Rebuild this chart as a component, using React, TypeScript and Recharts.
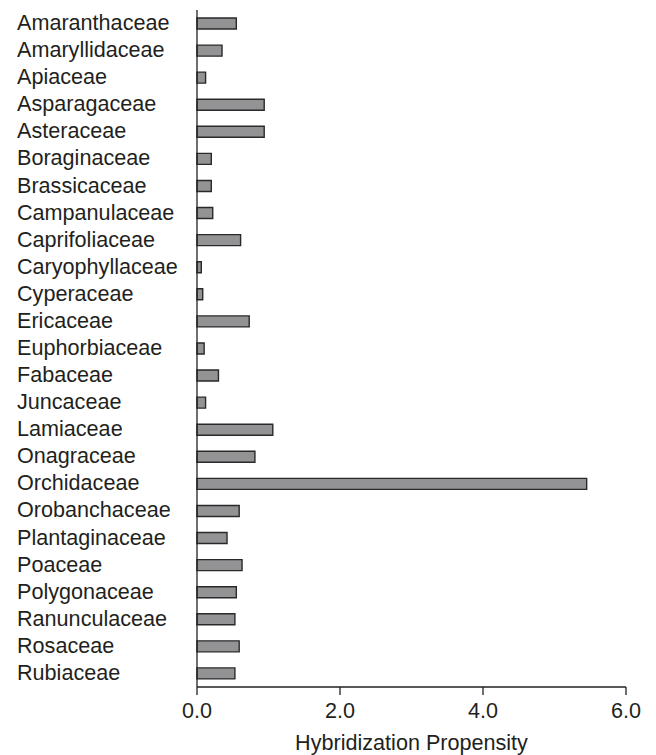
import React from 'react';
import { BarChart, Bar, XAxis, YAxis } from 'recharts';

const families = [
  'Amaranthaceae', 'Amaryllidaceae', 'Apiaceae', 'Asparagaceae', 'Asteraceae',
  'Boraginaceae', 'Brassicaceae', 'Campanulaceae', 'Caprifoliaceae', 'Caryophyllaceae',
  'Cyperaceae', 'Ericaceae', 'Euphorbiaceae', 'Fabaceae', 'Juncaceae',
  'Lamiaceae', 'Onagraceae', 'Orchidaceae', 'Orobanchaceae', 'Plantaginaceae',
  'Poaceae', 'Polygonaceae', 'Ranunculaceae', 'Rosaceae', 'Rubiaceae',
];

const propensity = [
  0.55, 0.35, 0.12, 0.94, 0.94,
  0.2, 0.2, 0.22, 0.61, 0.06,
  0.08, 0.73, 0.1, 0.3, 0.12,
  1.06, 0.81, 5.45, 0.59, 0.42,
  0.63, 0.55, 0.53, 0.59, 0.53,
];

const xTicks = [0, 2, 4, 6];

const data = families.map((name, i) => ({ name, value: propensity[i] }));

const FONT = '"Liberation Sans", Arial, sans-serif';
const INK = '#231f20';
const FS = 21.6;

const YTick = (props: any) => {
  const { y, payload } = props;
  return (
    <text x={17} y={y} dy="0.3em" textAnchor="start" fontFamily={FONT} fontSize={FS} fill={INK}>
      {payload.value}
    </text>
  );
};

export default function App() {
  return (
    <div style={{ position: 'absolute', left: 0, top: 0, background: '#fff' }}>
      <BarChart
        width={656}
        height={755}
        data={data}
        layout="vertical"
        margin={{ top: 10, right: 30, bottom: 0, left: 0 }}
      >
        <XAxis
          type="number"
          domain={[0, 6]}
          ticks={xTicks}
          tickFormatter={(v: number) => v.toFixed(1)}
          height={68}
          tickSize={8}
          tickMargin={8}
          stroke={INK}
          strokeWidth={1.3}
          tick={{ fontFamily: FONT, fontSize: FS, fill: INK }}
          label={{
            value: 'Hybridization Propensity',
            position: 'insideBottom',
            offset: 5,
            style: { fontFamily: FONT, fontSize: FS, fill: INK, textAnchor: 'middle' },
          }}
        />
        <YAxis
          type="category"
          dataKey="name"
          width={197}
          tickLine={false}
          stroke={INK}
          strokeWidth={1.3}
          tick={<YTick />}
          interval={0}
        />
        <Bar
          dataKey="value"
          barSize={11}
          fill="#939395"
          stroke="#2a2a2a"
          strokeWidth={1.4}
          isAnimationActive={false}
        />
      </BarChart>
    </div>
  );
}
